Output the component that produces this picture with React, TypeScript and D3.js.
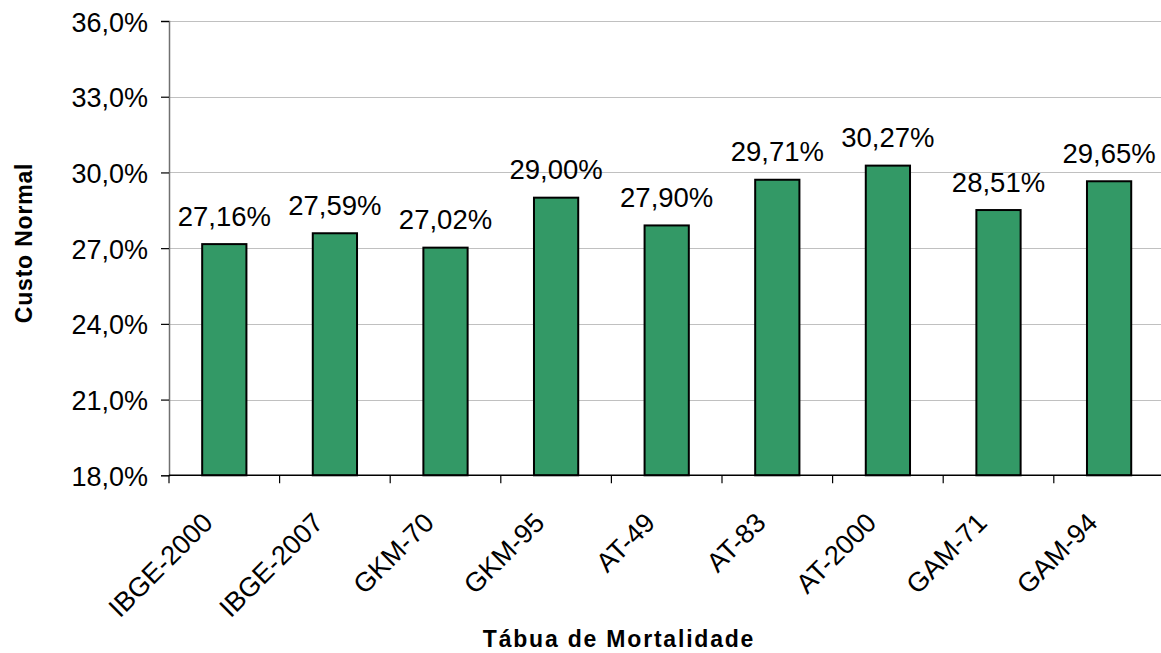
import { useRef, useEffect } from "react";
import * as d3 from "d3";

const CATEGORIES = [
  "IBGE-2000",
  "IBGE-2007",
  "GKM-70",
  "GKM-95",
  "AT-49",
  "AT-83",
  "AT-2000",
  "GAM-71",
  "GAM-94",
];
const VALUES = [27.16, 27.59, 27.02, 29.0, 27.9, 29.71, 30.27, 28.51, 29.65];
const Y_TICKS = [18, 21, 24, 27, 30, 33, 36];

const WIDTH = 1161;
const HEIGHT = 653;
const PLOT = { left: 169, right: 1164.4, top: 21, bottom: 475.3 };
const FONT = "'Liberation Sans', Arial, sans-serif";

const fmtPct = (v: number, digits: number) => v.toFixed(digits).replace(".", ",") + "%";

export default function App() {
  const svgRef = useRef<SVGSVGElement>(null);

  useEffect(() => {
    const svg = d3.select(svgRef.current);
    svg.selectAll("*").remove();

    const x = d3
      .scaleBand<string>()
      .domain(CATEGORIES)
      .range([PLOT.left, PLOT.right])
      .paddingInner(0.6)
      .paddingOuter(0.3);

    const y = d3.scaleLinear().domain([18, 36]).range([PLOT.bottom, PLOT.top]);

    // gridlines
    svg
      .append("g")
      .selectAll("line")
      .data(Y_TICKS.filter((t) => t !== 18))
      .enter()
      .append("line")
      .attr("x1", PLOT.left)
      .attr("x2", WIDTH)
      .attr("y1", (d) => Math.round(y(d)) + 0.5)
      .attr("y2", (d) => Math.round(y(d)) + 0.5)
      .attr("stroke", "#c0c0c0")
      .attr("stroke-width", 1);

    // y axis
    const yAxis = d3
      .axisLeft(y)
      .tickValues(Y_TICKS)
      .tickSize(8)
      .tickPadding(13)
      .tickFormat((d) => fmtPct(d as number, 1));

    svg
      .append("g")
      .attr("transform", `translate(${PLOT.left},0)`)
      .call(yAxis)
      .call((axis) => {
        axis.select(".domain").attr("stroke", "#707070").attr("stroke-width", 1.5);
        axis.selectAll(".tick line").attr("stroke", "#000").attr("stroke-width", 1.2);
        axis
          .selectAll(".tick text")
          .attr("fill", "#000")
          .attr("font-size", "27px")
          .attr("font-family", FONT)
          .attr("dy", "0.37em");
      });

    // bars
    svg
      .append("g")
      .selectAll("rect")
      .data(VALUES)
      .enter()
      .append("rect")
      .attr("x", (_, i) => x(CATEGORIES[i]) as number)
      .attr("y", (d) => y(d))
      .attr("width", x.bandwidth())
      .attr("height", (d) => PLOT.bottom - y(d))
      .attr("fill", "#339966")
      .attr("stroke", "#000")
      .attr("stroke-width", 2);

    // value labels
    svg
      .append("g")
      .selectAll("text")
      .data(VALUES)
      .enter()
      .append("text")
      .attr("x", (_, i) => (x(CATEGORIES[i]) as number) + x.bandwidth() / 2)
      .attr("y", (d) => y(d) - 18.5)
      .attr("text-anchor", "middle")
      .attr("fill", "#000")
      .attr("font-size", "27.5px")
      .attr("font-family", FONT)
      .text((d) => fmtPct(d, 2));

    // x axis line and ticks at category boundaries
    const step = x.step();
    svg
      .append("line")
      .attr("x1", PLOT.left)
      .attr("x2", WIDTH)
      .attr("y1", PLOT.bottom)
      .attr("y2", PLOT.bottom)
      .attr("stroke", "#000")
      .attr("stroke-width", 1.5);

    svg
      .append("g")
      .selectAll("line")
      .data(d3.range(CATEGORIES.length + 1))
      .enter()
      .append("line")
      .attr("x1", (i) => PLOT.left + i * step)
      .attr("x2", (i) => PLOT.left + i * step)
      .attr("y1", PLOT.bottom)
      .attr("y2", PLOT.bottom + 8)
      .attr("stroke", "#000")
      .attr("stroke-width", 1.2);

    // category labels
    svg
      .append("g")
      .selectAll("text")
      .data(CATEGORIES)
      .enter()
      .append("text")
      .attr(
        "transform",
        (d) => `translate(${(x(d) as number) + x.bandwidth() / 2 - 10},${PLOT.bottom + 49}) rotate(-45)`
      )
      .attr("text-anchor", "end")
      .attr("fill", "#000")
      .attr("font-size", "27px")
      .attr("font-family", FONT)
      .text((d) => d);

    // axis titles
    svg
      .append("text")
      .attr("x", 619)
      .attr("y", 647)
      .attr("text-anchor", "middle")
      .attr("fill", "#000")
      .attr("font-size", "23px")
      .attr("font-weight", "bold")
      .attr("letter-spacing", "1.8px")
      .attr("font-family", FONT)
      .text("Tábua de Mortalidade");

    svg
      .append("text")
      .attr("transform", `translate(32,243) rotate(-90)`)
      .attr("text-anchor", "middle")
      .attr("fill", "#000")
      .attr("font-size", "23px")
      .attr("font-weight", "bold")
      .attr("letter-spacing", "0.8px")
      .attr("font-family", FONT)
      .text("Custo Normal");
  }, []);

  return (
    <div style={{ position: "fixed", left: 0, top: 0, width: WIDTH, height: HEIGHT, background: "#fff" }}>
      <svg ref={svgRef} width={WIDTH} height={HEIGHT} style={{ display: "block" }} />
    </div>
  );
}
